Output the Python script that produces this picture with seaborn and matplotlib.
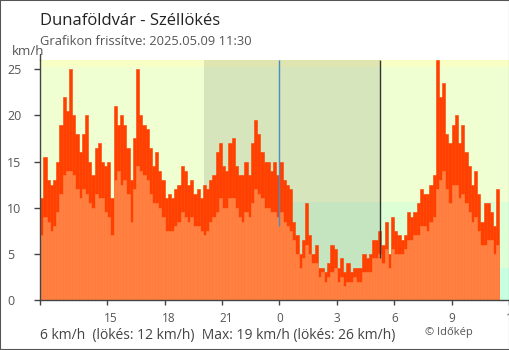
import numpy as np
import pandas as pd
import matplotlib
matplotlib.use("Agg")
import matplotlib.pyplot as plt
from matplotlib.patches import Rectangle
from matplotlib.transforms import ScaledTranslation
import seaborn as sns

# 10-minute wind readings (km/h) starting 2025-05-08 11:30
gust = [11, 15.5, 13, 12.5, 13, 15, 19, 22, 20.5, 25, 20, 18, 16, 18, 20, 15, 13.5, 16.5, 17, 15, 14.5, 15, 11, 21, 19,
        20, 19, 16.5, 13, 17.5, 25, 20, 19, 18.5, 16.5, 14.5, 16, 14, 13, 11, 11.5, 11, 12, 12.5, 14.5, 14, 12.5, 13, 11.5, 12,
        11, 12.5, 12, 13, 13.5, 16, 17, 14.5, 14, 17, 17.5, 14.5, 13.5, 13.5, 15, 13.5, 17, 19.5, 18, 16, 15, 15, 14, 15, 13.5,
        15, 13, 12.5, 12, 8.5, 7, 5, 6.5, 10.5, 7, 5, 6, 3.5, 3.5, 3, 4, 6, 5.5, 3.5, 4.5, 3, 4, 3, 3.5, 3.5,
        3.5, 5, 4.5, 5, 6.5, 6.5, 7.5, 6, 8.5, 5, 9, 7.5, 7, 6.5, 7, 9.5, 9, 9.5, 10.5, 12, 11.5, 11.5, 12.5, 13.5, 26,
        22, 23.5, 18, 17, 19, 20, 17, 19, 16, 14.5, 12.5, 14, 11.5, 8.5, 10.5, 10.5, 9.5, 8, 12]
mean = [7, 9, 8.5, 7.5, 8, 9.5, 11.5, 13.5, 14, 14, 13.5, 12, 11, 12, 11.5, 10.5, 10, 11.5, 11, 11, 9.5, 9, 7, 13, 14,
        12.5, 13, 11.5, 8.5, 12, 14.5, 14, 13.5, 13, 11.5, 10.5, 10.5, 10, 9, 7.5, 7.5, 7.5, 8, 8.5, 9.5, 9, 8.5, 9, 8, 8,
        7.5, 7, 7.5, 8.5, 9, 9.5, 11, 10, 10, 11, 11, 10, 9, 8.5, 9.5, 9, 10.5, 12, 11.5, 11, 10, 10, 9.5, 9.5, 9,
        9.5, 8.5, 8, 7.5, 6.5, 5, 3.5, 4.5, 6, 5, 4, 4, 2.5, 3, 2, 2.5, 3, 3.5, 2, 2.5, 1.5, 2, 2, 2.5, 2,
        2, 3, 3, 3, 4.5, 4.5, 5, 4, 5.5, 3.5, 5.5, 5, 5, 5, 5.5, 6.5, 6.5, 7, 7, 8, 8, 7.5, 8.5, 9, 12,
        13, 14, 12, 10.5, 12.5, 12.5, 11, 11.5, 10.5, 9.5, 8.5, 9, 7.5, 6, 6, 6.5, 6.5, 5, 6]

tick_labels = ["15", "18", "21", "0", "3", "6", "9", "12"]
y_ticks = [0, 5, 10, 15, 20, 25]

start = pd.Timestamp("2025-05-08 11:30")
sunset = pd.Timestamp("2025-05-08 20:04")
sunrise = pd.Timestamp("2025-05-09 05:16")
midnight = pd.Timestamp("2025-05-09 00:00")
first_tick = pd.Timestamp("2025-05-08 15:00")


def hrs(ts):
    return (ts - start) / pd.Timedelta(hours=1)


times = pd.date_range(start, periods=len(gust), freq="10min")
df = pd.DataFrame({"t": np.asarray(hrs(times)) + 1 / 12, "gust": gust, "mean": mean})

sns.set_theme(style="white")
plt.rcParams["font.family"] = ["Open Sans", "DejaVu Sans"]

fig = plt.figure(figsize=(5.1, 3.5), dpi=100)
ax = fig.add_axes([40.3 / 510, 50 / 350, 1 - 40.3 / 510, 240 / 350])

# wind-strength background bands
ax.axhspan(0, 3.5, color="#c8ffe0", lw=0, zorder=0)
ax.axhspan(3.5, 10.6, color="#dcffd6", lw=0, zorder=0)
ax.axhspan(10.6, 25.2, color="#efffd2", lw=0, zorder=0)
ax.axhspan(25.2, 27, color="#f8ffc4", lw=0, zorder=0)
# night shading
ax.axvspan(hrs(sunset), hrs(sunrise), color="black", alpha=0.1, lw=0, zorder=1)

sns.barplot(data=df, x="t", y="gust", native_scale=True, width=1.0, color="#ff4000",
            saturation=1, errorbar=None, linewidth=0.4, edgecolor="#ff4000", ax=ax, zorder=3)
sns.barplot(data=df, x="t", y="mean", native_scale=True, width=1.0, color="#ff8040",
            saturation=1, errorbar=None, linewidth=0.4, edgecolor="#ff8040", ax=ax, zorder=4)

ax.vlines(hrs(midnight), 8, 26, color="#4a8cc4", lw=1, zorder=5)
ax.vlines(hrs(sunrise), 4.5, 26, color="#333333", lw=1, zorder=5)

ax.set_xlim(0, 24.55)
ax.set_ylim(0, 26)
ax.set_xlabel("")
ax.set_ylabel("")

xt = [0] + [hrs(first_tick) + 3 * i for i in range(len(tick_labels))]
ax.set_xticks(xt)
ax.set_xticklabels([""] + tick_labels)
ax.set_yticks(y_ticks)
ax.set_yticklabels([str(v) for v in y_ticks])

for s in ["top", "right"]:
    ax.spines[s].set_visible(False)
for s in ["left", "bottom"]:
    ax.spines[s].set_color("#444444")
    ax.spines[s].set_linewidth(1)
    ax.spines[s].set_zorder(6)
ax.plot([0, 0], [26, 26.6], color="#444444", lw=1, clip_on=False, zorder=6)

ax.tick_params(axis="y", length=4.3, width=1, color="#444444", labelcolor="#555555",
               labelsize=9, pad=19.5, left=True)
ax.tick_params(axis="x", length=3.6, width=1, color="#444444", labelcolor="#555555",
               labelsize=8.5, pad=5, bottom=True)
ax.get_xticklines()[2 * 4].set_color("#4a8cc4")

for lab in ax.get_yticklabels():
    lab.set_horizontalalignment("left")
shift = ScaledTranslation(-3 / 100, 0, fig.dpi_scale_trans)
for lab in ax.get_xticklabels():
    lab.set_horizontalalignment("left")
    lab.set_transform(lab.get_transform() + shift)

fig.text(40 / 510, 1 - 25 / 350, "Dunaföldvár - Széllökés", fontsize=12,
         color="#222222", va="baseline", ha="left")
fig.text(40 / 510, 1 - 45 / 350, "Grafikon frissítve: 2025.05.09 11:30", fontsize=9.3,
         color="#555555", va="baseline", ha="left")
fig.text(12 / 510, 1 - 55 / 350, "km/h", fontsize=9.5, color="#555555",
         va="baseline", ha="left")
fig.text(40 / 510, 1 - 339 / 350,
         "6 km/h  (lökés: 12 km/h)  Max: 19 km/h (lökés: 26 km/h)",
         fontsize=10, color="#444444", va="baseline", ha="left")
fig.text(425 / 510, 1 - 335 / 350, "© Időkép", fontsize=8, color="#555555",
         va="baseline", ha="left")

fig.patches.append(Rectangle((0, 0), 1, 1, transform=fig.transFigure, fill=False,
                             edgecolor="#555555", lw=1.5))

fig.savefig("out.png", dpi=100)
